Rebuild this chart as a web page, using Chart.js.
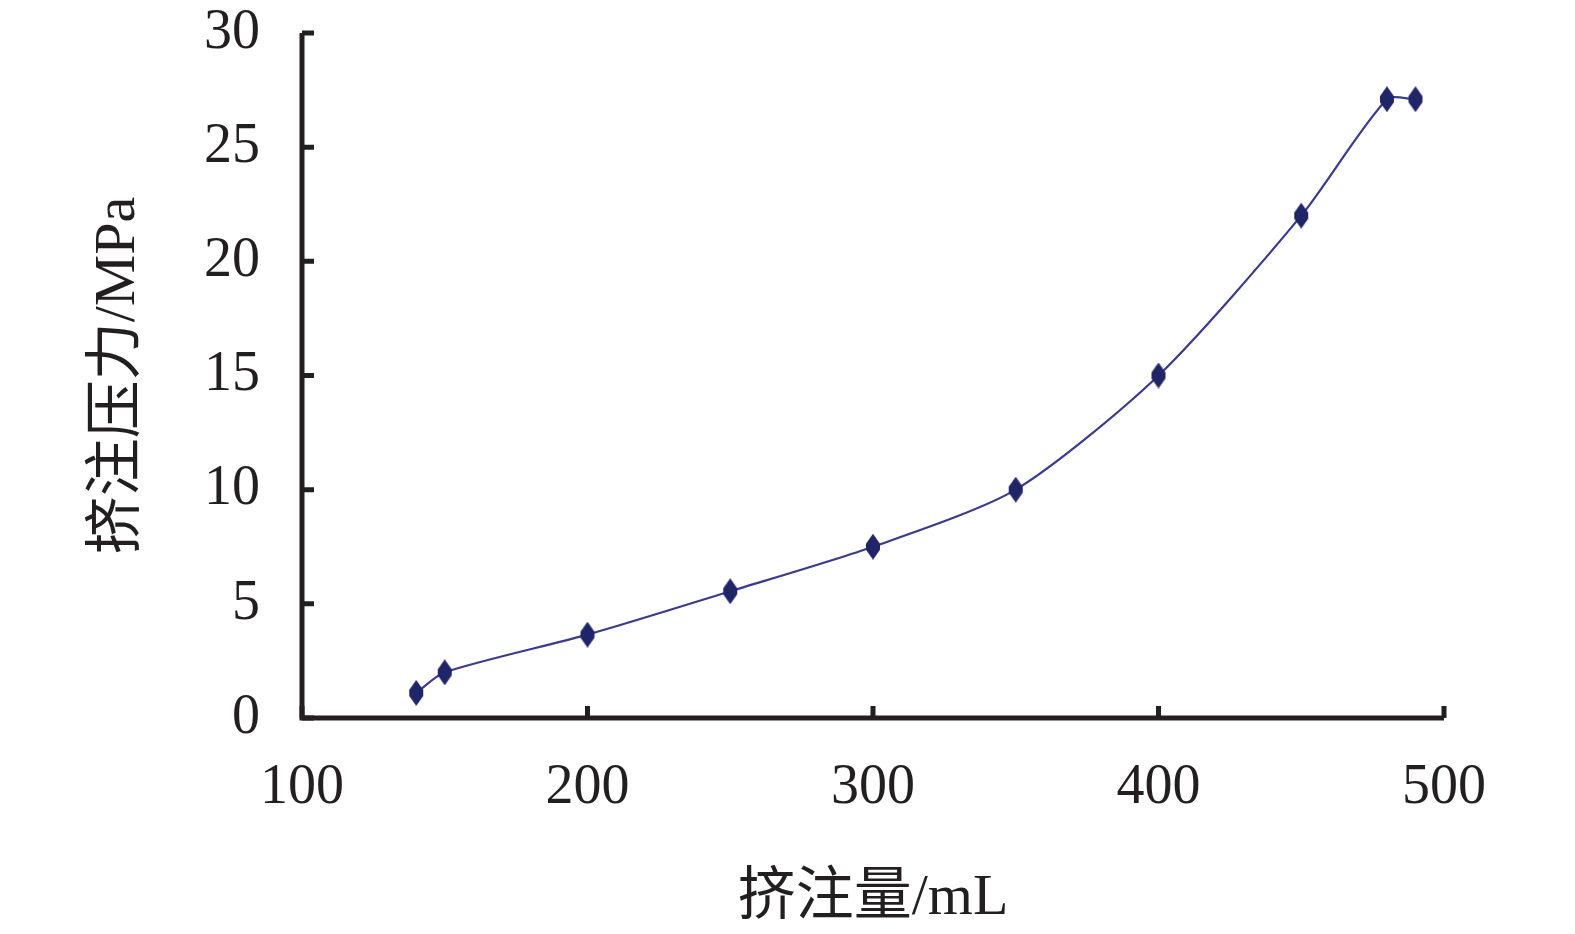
<!DOCTYPE html>
<html>
<head>
<meta charset="utf-8">
<script src="https://cdn.jsdelivr.net/npm/chart.js@4/dist/chart.umd.min.js"></script>
<style>
  html, body { margin: 0; padding: 0; background: #fff; }
  #wrap { width: 1575px; height: 934px; }
</style>
</head>
<body>
<div id="wrap"><canvas id="c" width="1575" height="934"></canvas></div>
<script>
// data
const volume = [140, 150, 200, 250, 300, 350, 400, 450, 480, 490];
const pressure = [1.1, 2.0, 3.65, 5.55, 7.5, 10.0, 15.0, 22.0, 27.1, 27.1];
const xTicks = [100, 200, 300, 400, 500];
const yTicks = [0, 5, 10, 15, 20, 25, 30];

const serif = '"Liberation Serif", "Noto Sans CJK SC", serif';

// tall diamond marker like the original
const marker = document.createElement('canvas');
marker.width = 16; marker.height = 26;
(function () {
  const m = marker.getContext('2d');
  m.fillStyle = '#1f2566';
  m.beginPath();
  m.moveTo(8, 0); m.lineTo(15, 10); m.lineTo(15, 16); m.lineTo(8, 26);
  m.lineTo(1, 16); m.lineTo(1, 10);
  m.closePath();
  m.fill();
})();

// inward tick marks, like the original plot
const innerTicks = {
  id: 'innerTicks',
  afterDraw(chart) {
    const ctx = chart.ctx;
    const xs = chart.scales.x, ys = chart.scales.y;
    const area = chart.chartArea;
    ctx.save();
    ctx.strokeStyle = '#231f20';
    ctx.lineWidth = 5;
    ctx.beginPath();
    yTicks.forEach(v => {
      const py = ys.getPixelForValue(v);
      ctx.moveTo(area.left, py);
      ctx.lineTo(area.left + 12, py);
    });
    xTicks.forEach(v => {
      const px = xs.getPixelForValue(v);
      ctx.moveTo(px, area.bottom);
      ctx.lineTo(px, area.bottom - 12);
    });
    ctx.stroke();
    // axis lines
    ctx.beginPath();
    ctx.moveTo(area.left, area.top);
    ctx.lineTo(area.left, area.bottom);
    ctx.lineTo(area.right, area.bottom);
    ctx.stroke();
    ctx.restore();
  }
};

new Chart(document.getElementById('c'), {
  type: 'line',
  data: {
    datasets: [{
      data: volume.map((v, i) => ({ x: v, y: pressure[i] })),
      borderColor: '#3a3a8e',
      borderWidth: 2.2,
      tension: 0.25,
      pointStyle: marker,
      pointRadius: 8,
      fill: false
    }]
  },
  plugins: [innerTicks],
  options: {
    responsive: false,
    animation: false,
    layout: { padding: { top: 33, right: 131, left: 0, bottom: 0 } },
    plugins: { legend: { display: false }, tooltip: { enabled: false } },
    scales: {
      x: {
        type: 'linear',
        min: 100, max: 500,
        afterBuildTicks: s => { s.ticks = xTicks.map(v => ({ value: v })); },
        afterFit: s => { s.height = 216; s.paddingLeft = 0; s.paddingRight = 0; },
        grid: { display: false, drawTicks: false },
        border: { display: false },
        ticks: { color: '#231f20', font: { family: serif, size: 56, lineHeight: 0.9 }, padding: 45 },
        title: { display: true, text: '挤注量/mL', color: '#231f20',
                 font: { family: serif, size: 58 }, padding: { top: 20, bottom: 0 } }
      },
      y: {
        min: 0, max: 30,
        afterBuildTicks: s => { s.ticks = yTicks.map(v => ({ value: v })); },
        afterFit: s => { s.width = 302; s.paddingTop = 0; s.paddingBottom = 0; },
        grid: { display: false, drawTicks: false },
        border: { display: false },
        ticks: { color: '#231f20', font: { family: serif, size: 56, lineHeight: 0.9 }, padding: 42 },
        title: { display: true, text: '挤注压力/MPa', color: '#231f20',
                 font: { family: serif, size: 58 }, padding: { top: 84, bottom: 20 } }
      }
    }
  }
});
</script>
</body>
</html>
